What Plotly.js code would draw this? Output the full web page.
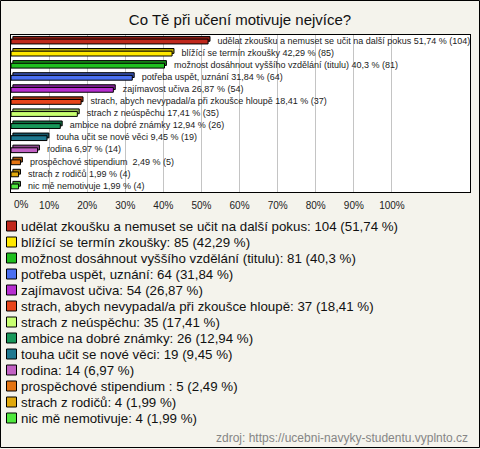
<!DOCTYPE html>
<html>
<head>
<meta charset="utf-8">
<script src="https://cdn.plot.ly/plotly-3.0.1.min.js"></script>
<style>
html,body{margin:0;padding:0;background:#f4f3ec;}
#chart{width:480px;height:449px;}
</style>
</head>
<body>
<div id="chart"></div>
<script>
// ---- data ----
const categories = [
  "udělat zkoušku a nemuset se učit na další pokus",
  "blížící se termín zkoušky",
  "možnost dosáhnout vyššího vzdělání (titulu)",
  "potřeba uspět, uznání",
  "zajímavost učiva",
  "strach, abych nevypadal/a při zkoušce hloupě",
  "strach z neúspěchu",
  "ambice na dobré známky",
  "touha učit se nové věci",
  "rodina",
  "prospěchové stipendium ",
  "strach z rodičů",
  "nic mě nemotivuje"
];
const counts = [104, 85, 81, 64, 54, 37, 35, 26, 19, 14, 5, 4, 4];
const percents = [51.74, 42.29, 40.3, 31.84, 26.87, 18.41, 17.41, 12.94, 9.45, 6.97, 2.49, 1.99, 1.99];
const percentLabels = ["51,74", "42,29", "40,3", "31,84", "26,87", "18,41", "17,41", "12,94", "9,45", "6,97", "2,49", "1,99", "1,99"];
const tickValues = [0, 10, 20, 30, 40, 50, 60, 70, 80, 90, 100];
const tickLabels = ["0%", "10%", "20%", "30%", "40%", "50%", "60%", "70%", "80%", "90%", "100%"];
const title = "Co Tě při učení motivuje nejvíce?";
const source = "zdroj: https://ucebni-navyky-studentu.vyplnto.cz";

// ---- styles ----
const colors = ["#c0281c", "#ffe800", "#1fbf1f", "#4a6ff0", "#b62ed0", "#e8451a", "#c8ff70", "#18985a", "#1e7890", "#c262c4", "#e47412", "#e0a80c", "#50e83e"];
function darken(hex, f) {
  const n = parseInt(hex.slice(1), 16);
  const r = Math.round(((n >> 16) & 255) * f), g = Math.round(((n >> 8) & 255) * f), b = Math.round((n & 255) * f);
  return "rgb(" + r + "," + g + "," + b + ")";
}
const darkColors = colors.map(c => darken(c, 0.72));
const FONT = "Liberation Sans, Arial, sans-serif";

const W = 480, H = 449;
const M = {l: 11, r: 10, t: 35, b: 257};
const plotW = W - M.l - M.r, plotH = H - M.t - M.b;
const px = x => (x - M.l) / plotW;
const py = y => (H - M.b - y) / plotH;

const barText = categories.map((c, i) => c + " " + percentLabels[i] + " % (" + counts[i] + ")");

const traces = [
  { // back (3D top face)
    type: "bar", orientation: "h", y: categories, x: percents, base: 0.5,
    width: 0.4, offset: -0.38,
    marker: {color: darkColors, line: {color: "#000", width: 1}},
    hoverinfo: "skip", showlegend: false
  },
  { // front face
    type: "bar", orientation: "h", y: categories, x: percents,
    width: 0.4, offset: -0.16,
    marker: {color: colors, line: {color: "#000", width: 1}},
    showlegend: false
  },
  { // labels
    type: "bar", orientation: "h", y: categories, x: percents, base: 1.7,
    width: 0.8, offset: -0.42,
    marker: {color: "rgba(0,0,0,0)"},
    text: barText, textposition: "outside", cliponaxis: false, constraintext: "none",
    textfont: {family: FONT, size: 9, color: "#222"},
    hoverinfo: "skip", showlegend: false
  }
];

const annotations = [];
const shapes = [];
categories.forEach((c, i) => {
  const yc = 226 + 16 * i;
  annotations.push({
    xref: "paper", yref: "paper", x: px(19), y: py(yc), xanchor: "left", yanchor: "middle",
    text: c + ": " + counts[i] + " (" + percentLabels[i] + " %)", showarrow: false,
    font: {family: FONT, size: 13.3, color: "#111"}
  });
  shapes.push({
    type: "rect", xref: "paper", yref: "paper",
    x0: px(6.5), x1: px(16.5), y0: py(yc - 5), y1: py(yc + 5),
    fillcolor: colors[i], line: {color: "#000", width: 1}
  });
});
// first tick label drawn shifted right so it stays inside the frame
annotations.push({
  xref: "paper", yref: "paper", x: px(11.5), y: py(204), xanchor: "left", yanchor: "middle",
  text: tickLabels[0], showarrow: false, font: {family: FONT, size: 10, color: "#222"}
});
annotations.push({
  xref: "paper", yref: "paper", x: px(470), y: py(438), xanchor: "right", yanchor: "middle",
  text: source, showarrow: false, font: {family: FONT, size: 12, color: "#858585"}
});
shapes.push({
  type: "rect", xref: "paper", yref: "paper",
  x0: px(0.5), x1: px(479.5), y0: py(447.5), y1: py(0.5),
  line: {color: "#000", width: 1}, fillcolor: "rgba(0,0,0,0)"
});

const layout = {
  width: W, height: H,
  margin: M,
  paper_bgcolor: "#f4f3ec", plot_bgcolor: "#ffffff",
  barmode: "overlay", bargap: 0,
  font: {family: FONT, size: 10, color: "#222"},
  title: {text: title, x: 0.5, xanchor: "center", y: 1 - 20 / H, yanchor: "middle", yref: "container",
          font: {family: FONT, size: 15, color: "#111"}},
  xaxis: {range: [0, 120.5], tickvals: tickValues, ticktext: tickLabels.map((t, i) => i === 0 ? "" : t),
          showgrid: true, gridcolor: "#c4c4c4", gridwidth: 1, zeroline: false,
          showline: true, mirror: true, linecolor: "#000", linewidth: 1,
          ticks: "", ticklen: 0, ticklabelstandoff: 4,
          tickfont: {family: FONT, size: 10, color: "#222"}, fixedrange: true},
  yaxis: {type: "category", autorange: "reversed", showticklabels: false, showgrid: false, zeroline: false,
          showline: true, mirror: true, linecolor: "#000", linewidth: 1, ticks: "", fixedrange: true},
  annotations: annotations,
  shapes: shapes,
  showlegend: false
};

Plotly.newPlot("chart", traces, layout, {displayModeBar: false, staticPlot: true});
</script>
</body>
</html>
